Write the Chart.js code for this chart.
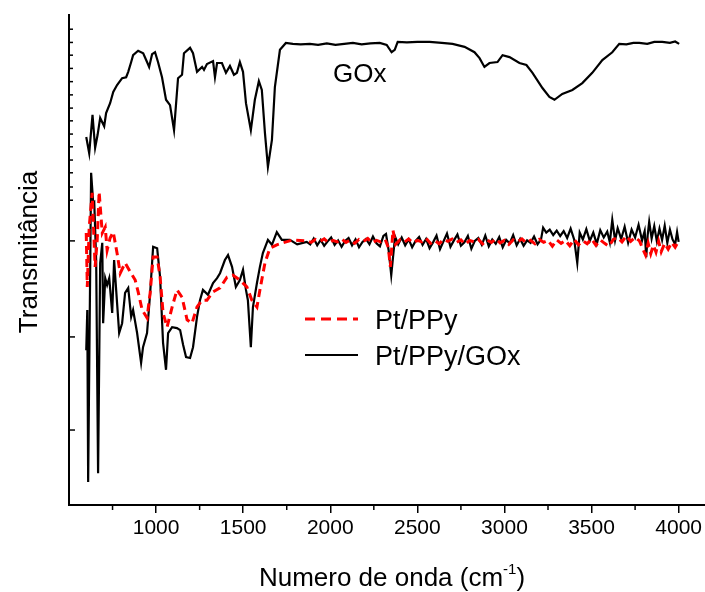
<!DOCTYPE html>
<html>
<head>
<meta charset="utf-8">
<script src="https://cdn.jsdelivr.net/npm/chart.js@4/dist/chart.umd.min.js"></script>
<style>
  html, body { margin: 0; padding: 0; background: #fff; }
  #wrap { width: 705px; height: 592px; }
</style>
</head>
<body>
<div id="wrap"><canvas id="ftir"></canvas></div>
<script>
const FONT = "'Liberation Sans', Arial, sans-serif";

// wavenumber ticks (cm-1)
const xTicks = [1000, 1500, 2000, 2500, 3000, 3500, 4000];
const xMinorTicks = [750, 1250, 1750, 2250, 2750, 3250, 3750];
// y ticks on the left axis (arbitrary transmittance units)
const yTicks = [97.1, 94.4, 91.8, 89.1, 86.4, 83.7, 81.0, 78.4, 75.7, 73.1, 70.4, 67.8, 64.9, 62.2];
const yMajorTicks = [53.9, 34.3, 15.3];

// GOx spectrum
const goxWn = [599, 616, 635, 650, 664, 679, 702, 713, 736, 754, 776, 805, 828, 840, 857, 868, 897, 926, 948, 960,
  977, 994, 1011, 1034, 1057, 1080, 1103, 1126, 1149, 1160, 1195, 1212, 1235, 1264, 1275, 1292, 1327, 1338, 1350, 1378,
  1401, 1424, 1447, 1464, 1481, 1499, 1516, 1544, 1567, 1590, 1607, 1625, 1642, 1665, 1682, 1711, 1745, 1785, 1830, 1883,
  1930, 1980, 2030, 2080, 2130, 2180, 2230, 2284, 2324, 2352, 2370, 2387, 2440, 2500, 2570, 2640, 2702, 2771, 2828, 2857,
  2885, 2914, 2960, 2989, 3029, 3086, 3126, 3161, 3218, 3258, 3287, 3332, 3390, 3447, 3504, 3562, 3619, 3659, 3700, 3740,
  3774, 3820, 3860, 3906, 3950, 3980, 4003];
const goxT = [75.1, 71.8, 79.6, 72.9, 75.5, 79.0, 77.3, 80.0, 82.0, 84.3, 85.7, 87.1, 87.3, 88.4, 90.4, 91.8, 92.7, 92.2, 90.4, 89.4,
  92.0, 92.4, 90.4, 87.3, 82.7, 81.6, 76.5, 87.1, 87.8, 92.2, 93.3, 92.2, 88.4, 89.4, 88.8, 90.0, 90.6, 87.3, 90.2, 90.2,
  88.2, 89.6, 87.8, 88.2, 90.4, 88.4, 82.0, 76.5, 82.7, 86.5, 84.7, 75.9, 69.0, 74.5, 85.3, 92.9, 94.3, 94.1, 94.0, 94.1,
  93.9, 94.2, 93.9, 94.1, 94.3, 94.0, 94.2, 94.3, 93.9, 92.4, 92.9, 94.5, 94.4, 94.5, 94.5, 94.3, 94.1, 93.5, 92.4, 91.2,
  89.4, 90.2, 90.4, 91.8, 91.4, 90.2, 89.8, 88.2, 85.1, 83.3, 82.7, 83.9, 84.7, 86.1, 88.2, 90.8, 92.4, 94.1, 94.0, 94.3,
  94.3, 94.1, 94.5, 94.5, 94.3, 94.6, 94.1];

// Pt/PPy spectrum
const ptWn = [599, 605, 616, 633, 639, 650, 662, 673, 691, 708, 719, 736, 754, 776, 794, 822, 851, 880, 897, 920,
  948, 966, 983, 1006, 1023, 1040, 1063, 1092, 1120, 1149, 1178, 1206, 1235, 1264, 1292, 1327, 1367, 1407, 1441, 1481,
  1521, 1550, 1579, 1596, 1625, 1653, 1693, 1728, 1785, 1865, 1890, 1915, 1940, 1965, 1990, 2015, 2040, 2065, 2090, 2115,
  2140, 2165, 2190, 2215, 2240, 2265, 2290, 2315, 2333, 2345, 2360, 2375, 2400, 2425, 2450, 2475, 2500, 2525, 2550, 2575,
  2600, 2625, 2650, 2675, 2700, 2725, 2750, 2775, 2800, 2825, 2850, 2875, 2900, 2925, 2950, 2975, 3000, 3025, 3050, 3075,
  3100, 3125, 3150, 3175, 3200, 3225, 3250, 3275, 3300, 3325, 3350, 3375, 3400, 3425, 3450, 3475, 3500, 3525, 3550, 3575,
  3600, 3625, 3650, 3675, 3700, 3725, 3750, 3775, 3795, 3810, 3825, 3840, 3855, 3870, 3885, 3900, 3920, 3940, 3960, 3980,
  4000];
const ptT = [55.5, 44.5, 56.7, 63.7, 58.2, 48.6, 54.1, 63.9, 55.5, 56.7, 52.0, 54.5, 55.7, 51.4, 47.3, 49.4, 47.6, 45.9, 43.5, 39.8,
  38.2, 43.3, 50.6, 50.6, 46.5, 39.2, 36.3, 40.4, 43.9, 42.4, 37.8, 37.1, 40.4, 41.8, 41.8, 43.5, 44.3, 46.5, 46.9, 45.9,
  44.5, 41.8, 40.4, 43.9, 49.4, 52.4, 53.1, 53.5, 54.1, 53.9, 53.6, 54.2, 53.8, 54.3, 53.5, 54.0, 53.7, 54.3, 53.6, 54.1,
  53.4, 54.2, 53.8, 54.4, 53.5, 54.0, 53.7, 54.2, 52.6, 48.6, 56.1, 53.2, 54.1, 53.6, 54.3, 53.5, 54.0, 53.7, 54.4, 53.4,
  54.0, 53.3, 54.2, 53.8, 54.3, 53.6, 54.1, 53.2, 54.0, 53.7, 54.2, 53.3, 54.1, 53.6, 54.3, 53.5, 54.0, 53.2, 54.1, 53.7,
  54.3, 53.5, 54.0, 53.3, 54.2, 53.6, 54.0, 52.8, 54.1, 53.4, 54.0, 52.9, 54.2, 53.1, 53.9, 53.3, 54.3, 53.0, 54.1, 53.4,
  52.8, 54.2, 54.6, 53.7, 54.9, 53.8, 54.6, 53.9, 52.2, 51.0, 53.4, 51.3, 53.0, 51.6, 53.8, 51.7, 53.4, 52.2, 53.6, 52.6,
  53.9];

// Pt/PPy/GOx spectrum
const ptgWn = [599, 605, 610, 627, 639, 645, 656, 667, 679, 691, 696, 708, 719, 731, 748, 759, 776, 788, 805, 822,
  840, 857, 868, 891, 914, 925, 948, 966, 983, 1006, 1023, 1040, 1057, 1069, 1092, 1120, 1138, 1155, 1172, 1195,
  1212, 1235, 1252, 1269, 1298, 1327, 1350, 1367, 1395, 1413, 1436, 1458, 1481, 1499, 1516, 1527, 1544, 1556, 1579, 1596,
  1613, 1642, 1665, 1693, 1722, 1768, 1810, 1865, 1885, 1905, 1925, 1945, 1965, 1985, 2005, 2025, 2045, 2065, 2085, 2105,
  2125, 2145, 2165, 2185, 2205, 2225, 2245, 2265, 2285, 2305, 2320, 2335, 2350, 2360, 2372, 2390, 2410, 2430, 2450, 2470,
  2490, 2510, 2530, 2550, 2570, 2590, 2610, 2630, 2650, 2670, 2690, 2710, 2730, 2750, 2770, 2790, 2810, 2830, 2850, 2870,
  2890, 2910, 2930, 2950, 2970, 2990, 3010, 3030, 3050, 3070, 3090, 3110, 3130, 3150, 3170, 3190, 3210, 3222, 3240, 3260,
  3280, 3300, 3320, 3340, 3360, 3380, 3400, 3418, 3432, 3450, 3470, 3490, 3510, 3530, 3550, 3570, 3590, 3605, 3619, 3635,
  3650, 3670, 3690, 3710, 3730, 3750, 3770, 3790, 3805, 3814, 3822, 3831, 3845, 3860, 3875, 3890, 3905, 3920, 3935, 3950,
  3965, 3980, 3991, 4000];
const ptgT = [31.6, 39.8, 4.7, 67.8, 61.6, 61.8, 50.0, 6.5, 49.4, 53.5, 37.1, 46.3, 44.9, 46.3, 39.2, 50.0, 41.2, 35.1, 37.1, 43.3,
  44.3, 38.4, 39.8, 35.1, 29.0, 32.2, 35.1, 43.3, 52.7, 52.4, 46.5, 33.1, 27.6, 35.1, 36.3, 36.1, 35.7, 32.7, 30.2, 30.0,
  32.2, 38.4, 41.8, 43.9, 42.9, 45.3, 46.3, 47.3, 50.0, 51.0, 48.6, 44.5, 45.9, 48.0, 43.9, 41.8, 32.2, 40.4, 45.3, 48.6,
  51.4, 54.1, 53.1, 55.7, 54.1, 54.1, 53.2, 53.7, 53.2, 54.4, 53.0, 54.1, 52.9, 53.8, 54.6, 53.1, 54.0, 52.7, 53.9, 54.5,
  53.0, 54.2, 52.6, 53.7, 54.3, 53.2, 54.8, 53.4, 52.8, 54.9, 55.3, 52.0, 46.9, 50.5, 54.8, 53.2, 54.6, 53.0, 54.2, 52.6,
  53.9, 54.7, 53.1, 54.3, 52.4, 53.6, 55.0, 52.2, 53.8, 55.4, 52.7, 54.0, 55.2, 52.9, 53.6, 54.9, 52.3, 53.9, 54.5, 53.1,
  55.0, 52.8, 54.2, 53.3, 54.7, 52.6, 54.1, 53.4, 55.1, 53.0, 54.3, 52.9, 54.0, 53.5, 54.8, 53.2, 54.2, 56.6, 55.6, 56.2,
  55.1, 56.0, 54.9, 55.9, 54.5, 56.4, 54.2, 49.4, 55.6, 54.2, 56.3, 53.9, 55.6, 53.3, 56.1, 54.6, 55.8, 53.6, 58.2, 54.0,
  56.5, 54.3, 56.8, 53.5, 56.2, 54.6, 57.2, 54.0, 55.9, 50.6, 55.0, 57.8, 54.4, 56.9, 53.8, 56.4, 54.1, 57.0, 53.5, 56.2,
  54.2, 53.2, 55.7, 53.7];

const pairs = (wn, t) => wn.map((w, i) => ({ x: w, y: t[i] }));

// axis ticks, titles, legend and curve label
const decor = {
  id: "decor",
  afterDraw(chart) {
    const { ctx, chartArea: a } = chart;
    const x = chart.scales.x;
    const y = chart.scales.y;
    ctx.save();
    ctx.strokeStyle = "#000";
    ctx.lineWidth = 1.5;
    for (const v of yTicks) {
      const py = y.getPixelForValue(v);
      ctx.beginPath(); ctx.moveTo(a.left, py); ctx.lineTo(a.left + 4, py); ctx.stroke();
    }
    for (const v of yMajorTicks) {
      const py = y.getPixelForValue(v);
      ctx.beginPath(); ctx.moveTo(a.left, py); ctx.lineTo(a.left + 6, py); ctx.stroke();
    }
    for (const v of xMinorTicks) {
      const px = x.getPixelForValue(v);
      ctx.beginPath(); ctx.moveTo(px, a.bottom); ctx.lineTo(px, a.bottom + 5); ctx.stroke();
    }

    ctx.fillStyle = "#000";
    ctx.textBaseline = "alphabetic";
    // x title with superscript
    ctx.font = `26px ${FONT}`;
    const t1 = "Numero de onda (cm";
    const sup = "-1";
    const t2 = ")";
    const w1 = ctx.measureText(t1).width;
    const w3 = ctx.measureText(t2).width;
    ctx.font = `15px ${FONT}`;
    const w2 = ctx.measureText(sup).width;
    const sx = 392 - (w1 + w2 + w3) / 2;
    const by = 586;
    ctx.font = `26px ${FONT}`;
    ctx.fillText(t1, sx, by);
    ctx.font = `15px ${FONT}`;
    ctx.fillText(sup, sx + w1, by - 12);
    ctx.font = `26px ${FONT}`;
    ctx.fillText(t2, sx + w1 + w2, by);

    // y title
    ctx.save();
    ctx.translate(37, 252);
    ctx.rotate(-Math.PI / 2);
    ctx.textAlign = "center";
    ctx.fillText("Transmitância", 0, 0);
    ctx.restore();

    // curve label
    ctx.font = `26px ${FONT}`;
    ctx.fillText("GOx", 333, 82);

    // legend
    ctx.lineWidth = 3;
    ctx.strokeStyle = "#ff0000";
    ctx.setLineDash([10, 6]);
    ctx.beginPath(); ctx.moveTo(305, 319); ctx.lineTo(358, 319); ctx.stroke();
    ctx.setLineDash([]);
    ctx.lineWidth = 2;
    ctx.strokeStyle = "#000";
    ctx.beginPath(); ctx.moveTo(305, 355); ctx.lineTo(358, 355); ctx.stroke();
    ctx.font = `27px ${FONT}`;
    ctx.fillText("Pt/PPy", 375, 329);
    ctx.fillText("Pt/PPy/GOx", 375, 365);
    ctx.restore();
  },
};

new Chart(document.getElementById("ftir"), {
  type: "line",
  data: {
    datasets: [
      {
        label: "Pt/PPy",
        data: pairs(ptWn, ptT),
        borderColor: "#ff0000",
        borderWidth: 3,
        borderDash: [8, 5],
        order: 0,
      },
      {
        label: "Pt/PPy/GOx",
        data: pairs(ptgWn, ptgT),
        borderColor: "#000",
        borderWidth: 2.2,
        order: 1,
      },
      {
        label: "GOx",
        data: pairs(goxWn, goxT),
        borderColor: "#000",
        borderWidth: 2.2,
        order: 2,
      },
    ],
  },
  options: {
    responsive: true,
    maintainAspectRatio: false,
    animation: false,
    devicePixelRatio: 1,
    elements: { point: { radius: 0 }, line: { tension: 0 } },
    layout: { padding: { left: 0, right: 0, top: 15, bottom: 0 } },
    plugins: { legend: { display: false }, tooltip: { enabled: false } },
    scales: {
      x: {
        type: "linear",
        min: 500,
        max: 4150,
        afterBuildTicks: (s) => { s.ticks = xTicks.map((v) => ({ value: v })); },
        afterFit: (s) => { s.height = 87; },
        ticks: { color: "#000", font: { family: FONT, size: 21 }, padding: 3, maxRotation: 0, callback: (v) => String(v) },
        grid: { display: true, drawOnChartArea: false, drawTicks: true, tickLength: 8, color: "#000", lineWidth: 1.5 },
        border: { display: true, color: "#000", width: 2 },
      },
      y: {
        min: 0,
        max: 100,
        afterFit: (s) => { s.width = 69; },
        ticks: { display: false },
        grid: { display: false },
        border: { display: true, color: "#000", width: 2 },
      },
    },
  },
  plugins: [decor],
});
</script>
</body>
</html>
